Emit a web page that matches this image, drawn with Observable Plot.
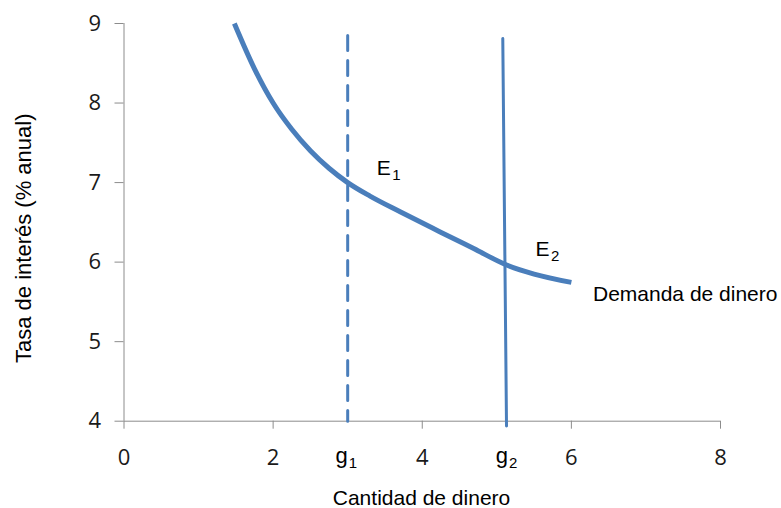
<!DOCTYPE html>
<html>
<head>
<meta charset="utf-8">
<script src="https://cdn.jsdelivr.net/npm/d3@7"></script>
<script src="https://cdn.jsdelivr.net/npm/@observablehq/plot@0.6"></script>
<style>
  html, body { margin: 0; padding: 0; background: #fff; }
  #chart svg { display: block; }
</style>
</head>
<body>
<div id="chart"></div>
<script>
// ---- data ----
const xTicks = [0, 2, 4, 6, 8];
const yTicks = [4, 5, 6, 7, 8, 9];

// Demanda de dinero (curve)
const demandX = [1.48, 1.75, 2.0, 2.25, 2.5, 2.75, 3.0, 3.3, 3.71, 4.24, 4.69, 5.14, 5.5, 6.0];
const demandY = [9.0, 8.43, 8.0, 7.67, 7.4, 7.18, 7.0, 6.83, 6.63, 6.38, 6.17, 5.96, 5.85, 5.745];

// Oferta g1 (dashed) and g2 (solid)
const g1X = [3, 3];
const g1Y = [8.85, 4];
const g2X = [5.08, 5.13];
const g2Y = [8.81, 3.94];

// labels
const pointLabels = [
  {x: 3.39, y: 7.09, base: "E", sub: "1"},
  {x: 5.52, y: 6.08, base: "E", sub: "2"}
];
const moneyLabels = [
  {x: 3.0, base: "g", sub: "1"},
  {x: 5.15, base: "g", sub: "2"}
];
const curveLabel = [{x: 6.29, y: 5.51, text: "Demanda de dinero"}];
const xTitle = "Cantidad de dinero";
const yTitle = "Tasa de interés (% anual)";

// ---- build ----
const demand = demandX.map((x, i) => ({x, y: demandY[i]}));
const g1 = g1X.map((x, i) => ({x, y: g1Y[i]}));
const g2 = g2X.map((x, i) => ({x, y: g2Y[i]}));

const blue = "#4a7ebb";
const axisGray = "#8c8c8c";
const sans = "'Liberation Sans', Arial, sans-serif";
const tickFont = "'Open Sans', 'Liberation Sans', sans-serif";

const chart = Plot.plot({
  width: 781,
  height: 508,
  marginLeft: 123.5,
  marginRight: 61,
  marginTop: 23,
  marginBottom: 87.3,
  style: {background: "#fff", color: "#1a1a1a"},
  x: {domain: [0, 8]},
  y: {domain: [4, 9]},
  marks: [
    Plot.axisX({ticks: xTicks, tickSize: 8, tickPadding: 20, stroke: axisGray, tickFormat: "d",
      fontSize: 22, fontFamily: tickFont, fill: "#1a1a1a", label: null}),
    Plot.axisY({ticks: yTicks, tickSize: 9, tickPadding: 14, stroke: axisGray, tickFormat: "d",
      fontSize: 22, fontFamily: tickFont, fill: "#1a1a1a", label: null}),
    Plot.ruleY([4], {stroke: axisGray, strokeWidth: 1}),
    Plot.ruleX([0], {stroke: axisGray, strokeWidth: 1}),
    Plot.line(demand, {x: "x", y: "y", curve: "monotone-x", stroke: blue, strokeWidth: 5, strokeLinecap: "butt"}),
    Plot.line(g1, {x: "x", y: "y", stroke: blue, strokeWidth: 3, strokeDasharray: "15,10"}),
    Plot.line(g2, {x: "x", y: "y", stroke: blue, strokeWidth: 3}),
    // E labels
    Plot.text(pointLabels, {x: "x", y: "y", text: "base", textAnchor: "start", lineAnchor: "bottom",
      fontSize: 21, fontFamily: sans, fill: "#000"}),
    Plot.text(pointLabels, {x: "x", y: "y", text: "sub", textAnchor: "start", lineAnchor: "bottom",
      dx: 15.5, dy: 5, fontSize: 15, fontFamily: sans, fill: "#000"}),
    // g labels on x axis
    Plot.text(moneyLabels, {x: "x", y: () => 4, text: "base", textAnchor: "end", lineAnchor: "bottom",
      dy: 42, fontSize: 22, fontFamily: sans, fill: "#000"}),
    Plot.text(moneyLabels, {x: "x", y: () => 4, text: "sub", textAnchor: "start", lineAnchor: "bottom",
      dx: 1, dy: 47, fontSize: 15, fontFamily: sans, fill: "#000"}),
    // curve label
    Plot.text(curveLabel, {x: "x", y: "y", text: "text", textAnchor: "start", lineAnchor: "bottom",
      fontSize: 21, fontFamily: sans, fill: "#000"}),
    // axis titles
    Plot.text([xTitle], {x: () => 3.99, y: () => 4, text: d => d, lineAnchor: "bottom",
      dy: 84, fontSize: 21, fontFamily: sans, fill: "#000"}),
    Plot.text([yTitle], {x: () => 0, y: () => 6.3, text: d => d, rotate: -90,
      dx: -100, fontSize: 22, fontFamily: sans, fill: "#000"})
  ]
});
document.getElementById("chart").appendChild(chart);
</script>
</body>
</html>
